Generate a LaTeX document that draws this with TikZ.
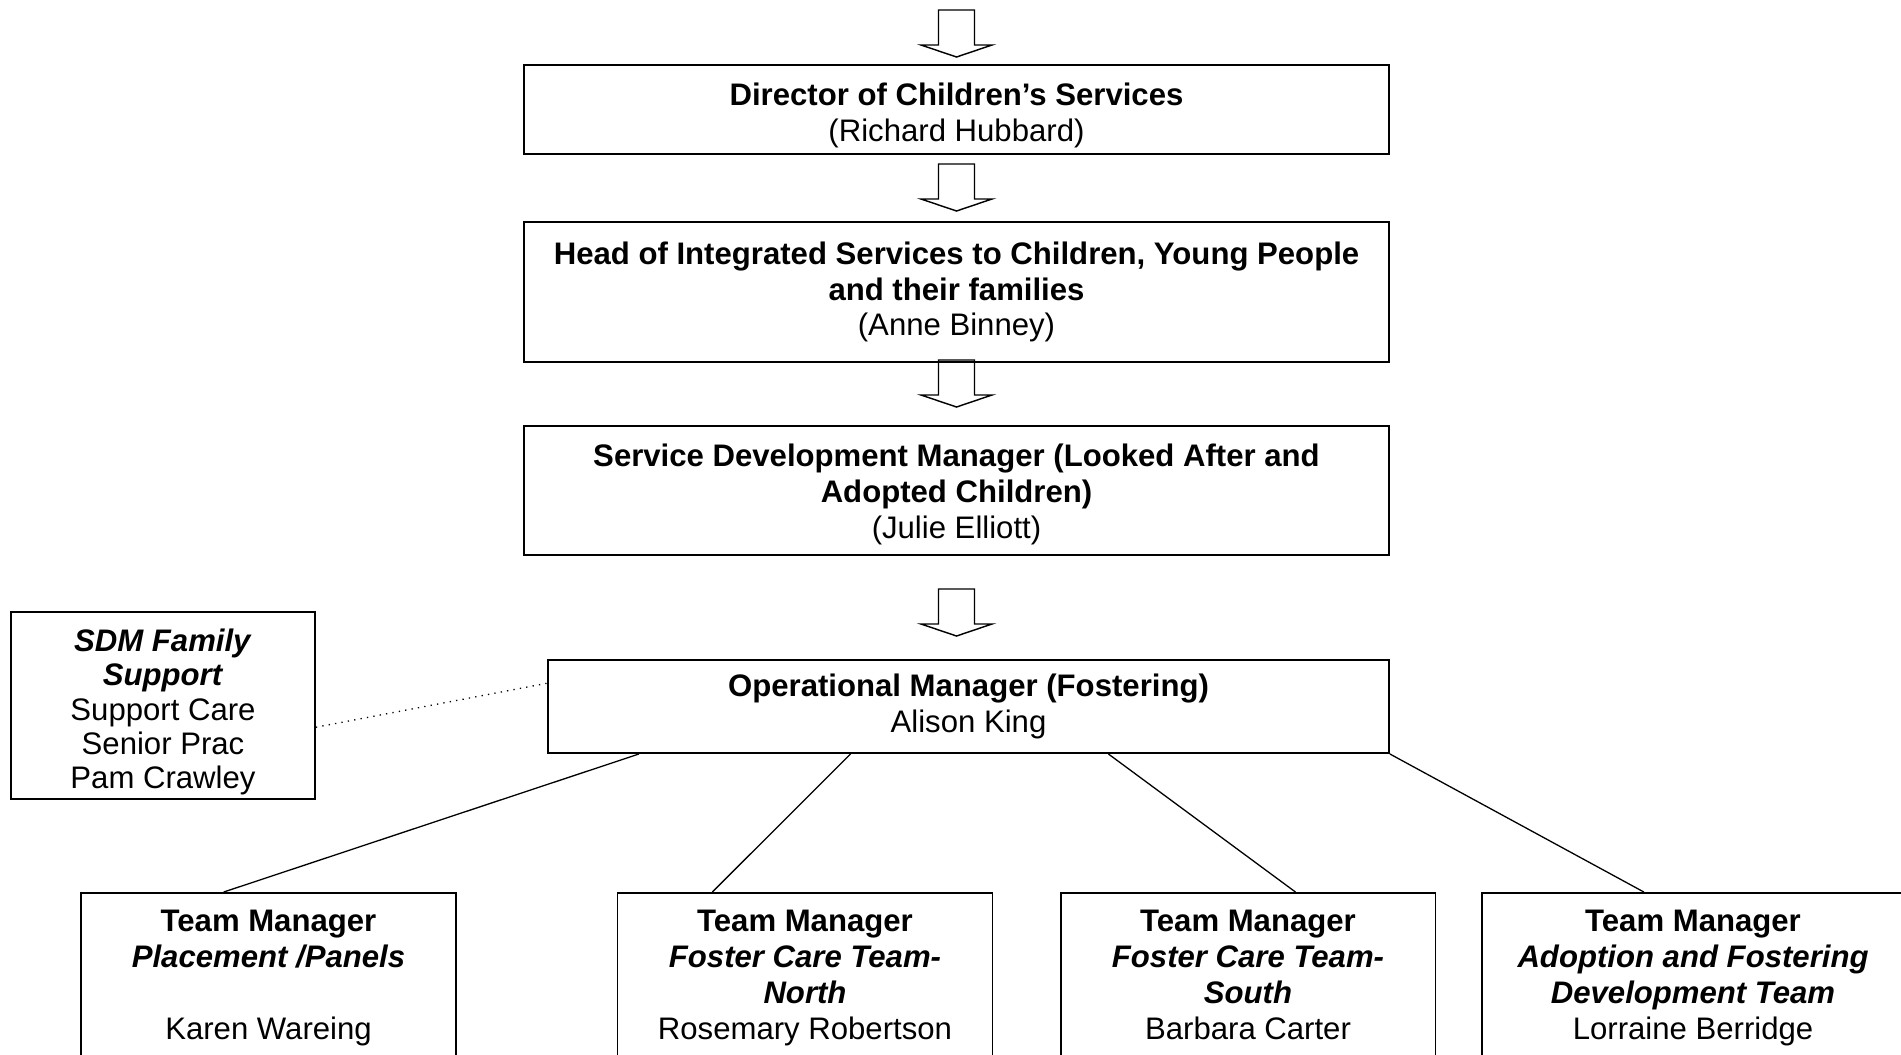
\documentclass[tikz,border=0pt]{standalone}
\usepackage{fontspec}
\setmainfont{Liberation Sans}
\usetikzlibrary{calc}

\begin{document}
\begin{tikzpicture}[x=0.3855pt, y=-0.3855pt,
every node/.style={font=\fontsize{12}{13.8}\selectfont, align=center},
box/.style={draw, line width=0.7pt, minimum width=333.5pt, inner sep=2pt},
team/.style={draw, line width=0.7pt, anchor=north, minimum width=144.5pt, inner xsep=2pt, inner ysep=6.8pt},
conn/.style={line width=0.5pt},
blkarrow/.pic={\draw[line width=0.55pt] (-18,0) -- (-18,35) -- (-35.5,35) -- (0,47) -- (35.5,35) -- (18,35) -- (18,0) -- cycle;}
]
\useasboundingbox (0,0) rectangle (1901,1054);

\node[box, minimum height=34.3pt] (dir) at (956.5,109.5) {\rule{0pt}{13.5pt}\textbf{Director of Children’s Services}\\(Richard Hubbard)};
\node[box, minimum height=54pt] (head) at (956.5,292) {\textbf{Head of Integrated Services to Children, Young People}\\\textbf{and their families}\\(Anne Binney)};
\node[box, minimum height=49.7pt] (sdm) at (956.5,490.5) {\rule{0pt}{11.8pt}\textbf{Service Development Manager (Looked After and}\\\textbf{Adopted Children)}\\(Julie Elliott)};
\node[box, minimum width=324.2pt, minimum height=35.9pt] (om) at (968.5,706.5) {\textbf{Operational Manager (Fostering)}\\Alison King};
\node[box, minimum width=117.2pt, minimum height=72.1pt, inner ysep=0pt, font=\fontsize{12}{13.2}\selectfont] (fam) at (163,705.5) {\rule{0pt}{13.8pt}\textbf{\textit{SDM Family}}\\\textbf{\textit{Support}}\\Support Care\\Senior Prac\\Pam Crawley};

\node[team] (tm1) at (268.5,892) {\textbf{Team Manager}\\\textbf{\textit{Placement /Panels}}\\\strut\\Karen Wareing};
\node[team] (tm2) at (805,892) {\textbf{Team Manager}\\\textbf{\textit{Foster Care Team-}}\\\textbf{\textit{North}}\\Rosemary Robertson};
\node[team] (tm3) at (1248,892) {\textbf{Team Manager}\\\textbf{\textit{Foster Care Team-}}\\\textbf{\textit{South}}\\Barbara Carter};
\node[team, minimum width=162.7pt] (tm4) at (1693,892) {\textbf{Team Manager}\\\textbf{\textit{Adoption and Fostering}}\\\textbf{\textit{Development Team}}\\Lorraine Berridge};

\pic at (956.5,10) {blkarrow};
\pic at (956.5,164) {blkarrow};
\pic at (956.5,360) {blkarrow};
\pic at (956.5,589) {blkarrow};

\draw[conn, dotted] ($(fam.north east)!.615!(fam.south east)$) -- ($(om.north west)!.255!(om.south west)$);
\draw[conn] ($(om.south west)!.109!(om.south east)$) -- ($(tm1.north west)!.381!(tm1.north east)$);
\draw[conn] ($(om.south west)!.36!(om.south east)$) -- ($(tm2.north west)!.254!(tm2.north east)$);
\draw[conn] ($(om.south west)!.666!(om.south east)$) -- ($(tm3.north west)!.626!(tm3.north east)$);
\draw[conn] (om.south east) -- ($(tm4.north west)!.384!(tm4.north east)$);
\end{tikzpicture}
\end{document}
